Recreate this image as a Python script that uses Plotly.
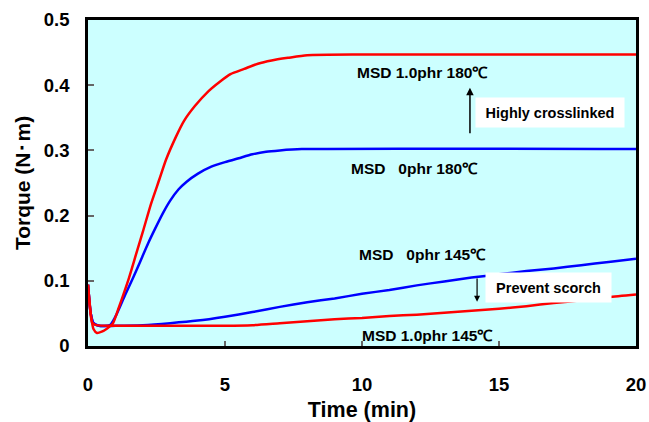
import plotly.graph_objects as go

# ---- data ----
t_red180 = [0, 0.1, 0.2, 0.33, 0.5, 0.7, 0.9, 1.1, 1.3, 1.5, 1.75, 2.0, 2.3, 2.6, 2.85,
            3.2, 3.5, 3.9, 4.4, 4.8, 5.2, 5.7, 6.2, 6.7, 7.3, 8, 10, 14, 20]
v_red180 = [0.094, 0.05, 0.026, 0.02, 0.022, 0.027, 0.034, 0.056, 0.08, 0.105, 0.14, 0.175,
            0.218, 0.255, 0.286, 0.32, 0.345, 0.368, 0.391, 0.405, 0.417, 0.425, 0.433, 0.438,
            0.442, 0.446, 0.447, 0.447, 0.447]

t_blue180 = [0, 0.1, 0.2, 0.4, 0.8, 1.0, 1.35, 1.65, 1.9, 2.2, 2.45, 2.75, 3.0, 3.3, 3.6,
             4.0, 4.5, 5.0, 5.5, 6.0, 6.5, 7.0, 7.8, 20]
v_blue180 = [0.094, 0.05, 0.035, 0.031, 0.032, 0.045, 0.078, 0.105, 0.129, 0.158, 0.18,
             0.205, 0.223, 0.24, 0.252, 0.264, 0.275, 0.282, 0.288, 0.294, 0.298, 0.300,
             0.302, 0.302]

t_blue145 = [0, 0.1, 0.2, 0.4, 1, 2, 3, 4, 5, 6, 7, 8, 9, 10, 11, 12, 13, 14, 15, 16, 17, 18, 19, 20]
v_blue145 = [0.094, 0.05, 0.035, 0.031, 0.031, 0.032, 0.035, 0.039, 0.045, 0.052, 0.06, 0.067,
             0.073, 0.08, 0.086, 0.093, 0.099, 0.105, 0.11, 0.115, 0.119, 0.124, 0.129, 0.134]

t_red145 = [0, 0.08, 0.15, 0.3, 1, 3, 5, 6, 7, 8, 9, 10, 11, 12, 13, 14, 15, 16, 17, 18, 19, 20]
v_red145 = [0.094, 0.055, 0.036, 0.032, 0.031, 0.031, 0.031, 0.032, 0.035, 0.038, 0.041, 0.043,
            0.046, 0.048, 0.051, 0.054, 0.057, 0.061, 0.066, 0.07, 0.075, 0.079]

y_ticks = [0, 0.1, 0.2, 0.3, 0.4, 0.5]
y_ticklabels = ["0", "0.1", "0.2", "0.3", "0.4", "0.5"]
x_ticks = [0, 5, 10, 15, 20]
x_ticklabels = ["0", "5", "10", "15", "20"]

FONT = "Liberation Sans, Arial, sans-serif"
RED = "#FF0000"
BLUE = "#0000FF"

fig = go.Figure()
for t, v, c in [(t_blue180, v_blue180, BLUE), (t_blue145, v_blue145, BLUE),
                (t_red145, v_red145, RED), (t_red180, v_red180, RED)]:
    fig.add_trace(go.Scatter(x=t, y=v, mode="lines", line=dict(color=c, width=2.5, shape="spline", smoothing=0.6),
                             showlegend=False, hoverinfo="skip", cliponaxis=True))

lab_font = dict(family=FONT, size=15.5, color="black")
box_font = dict(family=FONT, size=14.5, color="black")

annos = [
    dict(x=12.2, y=0.42, text="<b>MSD 1.0phr 180℃</b>", showarrow=False, font=lab_font),
    dict(x=11.9, y=0.273, text="<b>MSD   0phr 180℃</b>", showarrow=False, font=lab_font),
    dict(x=12.2, y=0.14, text="<b>MSD   0phr 145℃</b>", showarrow=False, font=lab_font),
    dict(x=12.4, y=0.016, text="<b>MSD 1.0phr 145℃</b>", showarrow=False, font=lab_font),
    dict(x=16.86, y=0.358, text="<b>Highly crosslinked</b>", showarrow=False, font=box_font,
         bgcolor="white", width=146, height=27),
    dict(x=16.8, y=0.09, text="<b>Prevent scorch</b>", showarrow=False, font=box_font,
         bgcolor="white", width=123, height=27),
    dict(x=13.94, y=0.396, ax=13.94, ay=0.324, axref="x", ayref="y", text="", showarrow=True,
         arrowhead=2, arrowsize=1, arrowwidth=1.5, arrowcolor="black"),
    dict(x=14.2, y=0.068, ax=14.2, ay=0.106, axref="x", ayref="y", text="", showarrow=True,
         arrowhead=2, arrowsize=1, arrowwidth=1.2, arrowcolor="black"),
]
for a in annos:
    a.setdefault("xref", "x")
    a.setdefault("yref", "y")
    fig.add_annotation(**a)

fig.update_layout(
    width=649, height=422,
    margin=dict(l=88, r=13, t=20, b=76, autoexpand=False),
    paper_bgcolor="white",
    plot_bgcolor="#CCFFFF",
    font=dict(family=FONT, color="black"),
    xaxis=dict(range=[0, 20], tickvals=x_ticks, ticktext=[f"<b>{s}</b>" for s in x_ticklabels],
               ticks="inside", ticklen=5, tickcolor="#666666", tickwidth=1.5,
               showline=True, linecolor="black", linewidth=2.5, mirror=True,
               showgrid=False, zeroline=False, ticklabelstandoff=20, automargin=False,
               tickfont=dict(size=18.5, family=FONT),
               title=dict(text="<b>Time (min)</b>", font=dict(size=21.5, family=FONT), standoff=10)),
    yaxis=dict(range=[0, 0.5], tickvals=y_ticks, ticktext=[f"<b>{s}</b>" for s in y_ticklabels],
               ticks="inside", ticklen=6, tickcolor="#666666", tickwidth=1.5,
               showline=True, linecolor="black", linewidth=2.5, mirror=True,
               showgrid=False, zeroline=False, ticklabelstandoff=12, automargin=False,
               tickfont=dict(size=18.5, family=FONT),
               title=dict(text="<b>Torque (N･m)</b>", font=dict(size=21, family=FONT), standoff=8)),
)

# remove the browser's default body margin so the 649x422 figure fills the window exactly
fig.write_html("out.html", config={"displayModeBar": False},
               post_script="document.body.style.margin='0';document.body.style.overflow='hidden';")
